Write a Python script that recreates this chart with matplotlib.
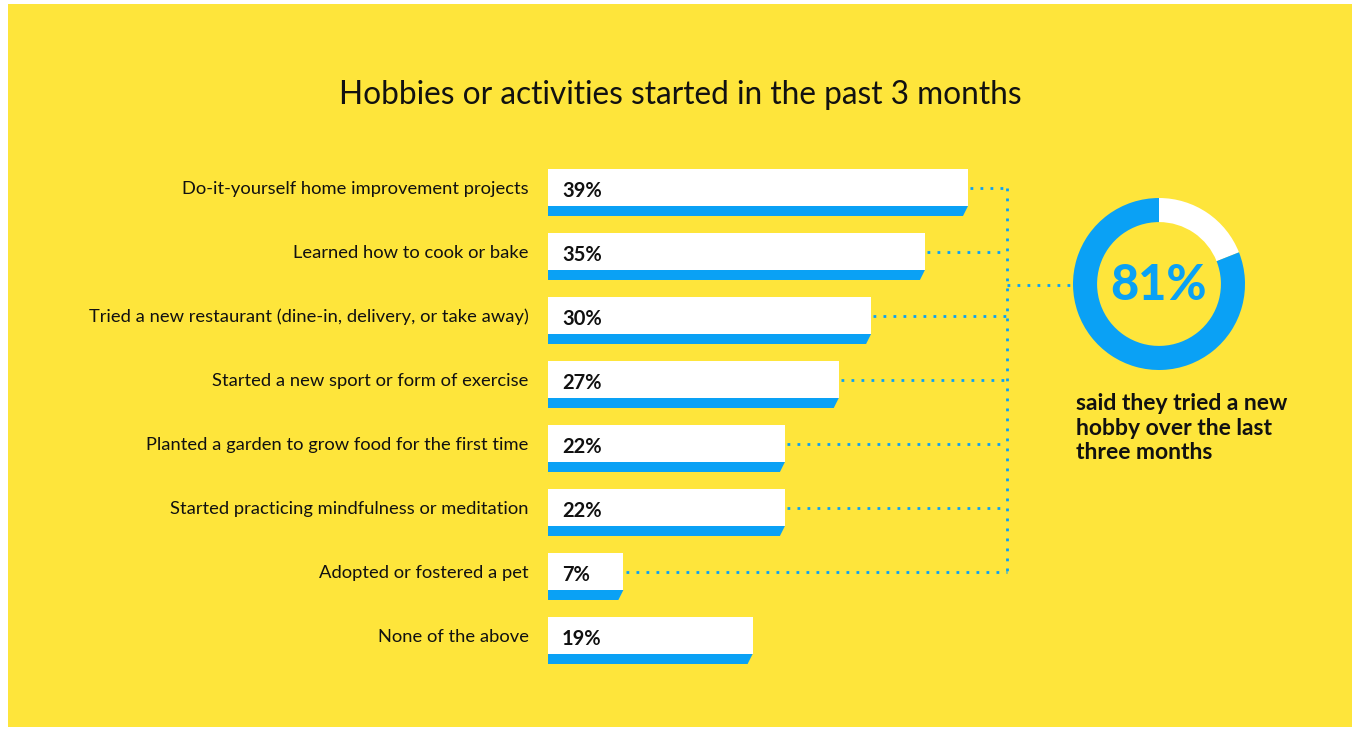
import matplotlib.pyplot as plt
from matplotlib.patches import Rectangle, Polygon

# dados
categorias = [
    "Do-it-yourself home improvement projects",
    "Learned how to cook or bake",
    "Tried a new restaurant (dine-in, delivery, or take away)",
    "Started a new sport or form of exercise",
    "Planted a garden to grow food for the first time",
    "Started practicing mindfulness or meditation",
    "Adopted or fostered a pet",
    "None of the above",
]
valores = [39, 35, 30, 27, 22, 22, 7, 19]
conectados = [True, True, True, True, True, True, True, False]
total_novo = 81

titulo = "Hobbies or activities started in the past 3 months"
legenda_donut = "said they tried a new\nhobby over the last\nthree months"

AMARELO = "#FEE53B"
AZUL = "#0AA1F5"
W, H = 1353, 729

plt.rcParams['font.family'] = ['Lato', 'DejaVu Sans']

fig = plt.figure(figsize=(W / 100, H / 100), dpi=100)
fig.patch.set_facecolor("white")

# fundo amarelo
bg = fig.add_axes([0, 0, 1, 1])
bg.set_xlim(0, W)
bg.set_ylim(H, 0)
bg.axis('off')
bg.add_patch(Rectangle((8, 4), 1344, 723, color=AMARELO, lw=0))
bg.text(680, 95, titulo, ha='center', va='center', fontsize=22.8, color='#111111')

# eixo das barras: x em %, y em linhas (64 px por linha)
px_por_pct = 420 / 39
x0 = 548
topo = 160.5
largura_px = W - x0
ax = fig.add_axes([x0 / W, 1 - (topo + 512) / H, largura_px / W, 512 / H])
ax.set_xlim(0, largura_px / px_por_pct)
ax.set_ylim(7.5, -0.5)
ax.axis('off')

branco_top, branco_base, azul_base = -0.367, 0.211, 0.367
inclina = 5 / px_por_pct
x_vert = (1007 - x0) / px_por_pct
x_donut = (1073 - x0) / px_por_pct
y_donut = (285 - (topo + 32)) / 64
estilo_pontos = dict(color=AZUL, lw=2.0, linestyle=(0, (1, 2.6)), clip_on=False)

for i, (cat, v) in enumerate(zip(categorias, valores)):
    ax.add_patch(Rectangle((0, i + branco_top), v, branco_base - branco_top,
                           facecolor='white', lw=0))
    ax.add_patch(Polygon([(0, i + branco_base), (v, i + branco_base),
                          (v - inclina, i + azul_base), (0, i + azul_base)],
                         closed=True, facecolor=AZUL, lw=0))
    ax.text(-1.8, i - 0.06, cat, ha='right', va='center', fontsize=13.2, color='#111111')
    ax.text(1.3, i - 0.03, f"{v}%", ha='left', va='center', fontsize=14.5,
            fontweight='bold', color='#111111')
    if conectados[i]:
        ax.plot([v + 0.2, x_vert], [i - 0.07, i - 0.07], **estilo_pontos)

linhas_con = [i for i, c in enumerate(conectados) if c]
ax.plot([x_vert, x_vert], [linhas_con[0] - 0.07, linhas_con[-1] - 0.07], **estilo_pontos)
ax.plot([x_vert, x_donut], [y_donut, y_donut], **estilo_pontos)

# donut
cx, cy, r = 1159, 284, 86
lado = 220
ax2 = fig.add_axes([(cx - lado / 2) / W, 1 - (cy + lado / 2) / H, lado / W, lado / H])
ax2.pie([100 - total_novo, total_novo], colors=['white', AZUL], startangle=90,
        counterclock=False, radius=1, wedgeprops=dict(width=0.28, lw=0))
lim = (lado / 2) / r
ax2.set_xlim(-lim, lim)
ax2.set_ylim(-lim, lim)
ax2.set_aspect('equal')
ax2.axis('off')
ax2.text(0, -0.02, f"{total_novo}%", ha='center', va='center', fontsize=35,
         fontweight='black', color=AZUL)

bg.text(1076, 428, legenda_donut, ha='left', va='center', fontsize=16.5,
        fontweight='bold', color='#111111', linespacing=1.22)

fig.savefig("out.png", dpi=100, facecolor=fig.get_facecolor())
